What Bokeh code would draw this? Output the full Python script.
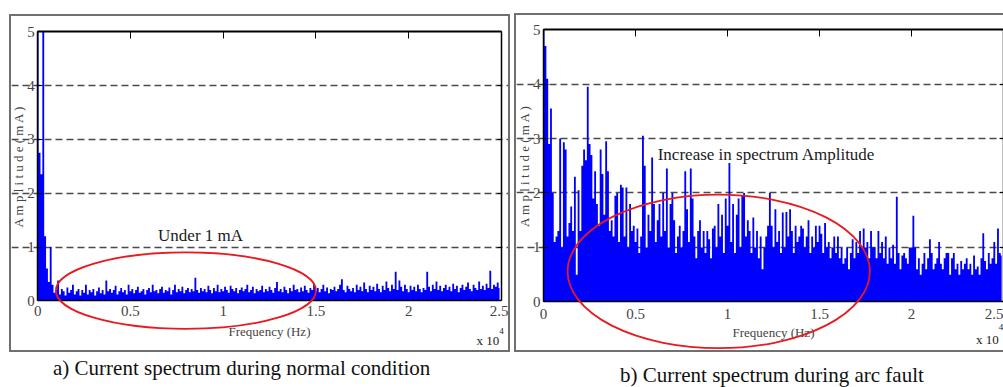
from bokeh.plotting import figure
from bokeh.models import LinearAxis, Range1d, FixedTicker, Label, Div
from bokeh.layouts import row, column
from bokeh.embed import file_html
from bokeh.resources import INLINE

FONT = "Liberation Serif"

# ---------------- data ----------------
FREQ_STEP = 100  # Hz per spectral bin
freqs = [i * FREQ_STEP for i in range(250)]

normal_amp = [
    5.0, 2.75, 2.35, 5.0, 1.2, 0.6, 0.35, 1.0, 0.3, 0.15,
    0.2, 0.38, 0.12, 0.22, 0.18, 0.1, 0.25, 0.15, 0.2, 0.3,
    0.12, 0.18, 0.22, 0.1, 0.2, 0.15, 0.3, 0.12, 0.2, 0.16,
    0.22, 0.1, 0.18, 0.25, 0.14, 0.2, 0.12, 0.38, 0.18, 0.22,
    0.15, 0.2, 0.28, 0.12, 0.18, 0.24, 0.16, 0.2, 0.12, 0.3,
    0.18, 0.22, 0.14, 0.2, 0.26, 0.15, 0.18, 0.22, 0.12, 0.2,
    0.24, 0.16, 0.3, 0.18, 0.2, 0.14, 0.22, 0.26, 0.15, 0.2,
    0.18, 0.25, 0.12, 0.2, 0.3, 0.16, 0.22, 0.18, 0.26, 0.14,
    0.2, 0.24, 0.16, 0.22, 0.18, 0.43, 0.2, 0.15, 0.24, 0.18,
    0.22, 0.16, 0.28, 0.2, 0.14, 0.24, 0.18, 0.3, 0.16, 0.22,
    0.18, 0.26, 0.2, 0.15, 0.28, 0.22, 0.18, 0.24, 0.14, 0.2,
    0.25, 0.18, 0.22, 0.3, 0.16, 0.2, 0.26, 0.14, 0.22, 0.18,
    0.2, 0.28, 0.16, 0.22, 0.18, 0.26, 0.2, 0.15, 0.24, 0.35,
    0.18, 0.22, 0.16, 0.26, 0.2, 0.14, 0.24, 0.18, 0.3, 0.2,
    0.22, 0.16, 0.25, 0.18, 0.28, 0.2, 0.15, 0.24, 0.2, 0.32,
    0.18, 0.24, 0.16, 0.22, 0.3, 0.18, 0.25, 0.14, 0.22, 0.2,
    0.26, 0.18, 0.22, 0.3, 0.4, 0.2, 0.16, 0.28, 0.22, 0.18,
    0.24, 0.16, 0.3, 0.2, 0.26, 0.18, 0.34, 0.22, 0.16, 0.28,
    0.2, 0.26, 0.18, 0.32, 0.22, 0.16, 0.28, 0.2, 0.36, 0.24,
    0.18, 0.3, 0.22, 0.54, 0.2, 0.38, 0.26, 0.18, 0.3, 0.22,
    0.16, 0.28, 0.2, 0.26, 0.18, 0.3, 0.22, 0.16, 0.24, 0.2,
    0.54, 0.26, 0.18, 0.3, 0.22, 0.36, 0.2, 0.28, 0.18, 0.24,
    0.3, 0.2, 0.26, 0.18, 0.32, 0.22, 0.28, 0.16, 0.24, 0.3,
    0.2, 0.26, 0.34, 0.22, 0.18, 0.3, 0.24, 0.2, 0.36, 0.22,
    0.28, 0.2, 0.32, 0.24, 0.56, 0.22, 0.3, 0.26, 0.34, 0.24,
]

fault_amp = [
    5.0, 4.7, 4.1, 2.9, 3.55, 2.0, 1.1, 1.2, 1.3, 3.0,
    1.0, 2.93, 2.8, 1.2, 1.45, 1.75, 1.3, 2.3, 0.5, 2.05,
    1.3, 2.5, 2.8, 2.6, 3.95, 2.9, 2.7, 1.9, 2.4, 1.8,
    1.4, 2.8, 2.35, 1.6, 2.95, 2.4, 1.3, 1.5, 1.2, 1.95,
    2.0, 1.1, 2.15, 2.1, 1.2, 2.1, 1.0, 1.8, 1.3, 1.4,
    1.1, 1.35, 0.9, 1.2, 3.05, 2.5, 1.0, 1.6, 1.3, 2.65,
    1.8, 1.1, 1.5, 1.8, 1.2, 2.0, 1.3, 2.45, 1.0, 1.8,
    2.0, 1.5, 0.9, 1.2, 1.4, 1.0, 1.3, 2.4, 1.7, 1.1,
    2.45, 1.9, 1.2, 0.8, 1.3, 1.5, 1.0, 1.3, 0.9, 1.3,
    1.15, 0.8, 1.35, 1.4, 1.0, 1.8, 1.2, 1.6, 0.9, 1.9,
    1.4, 2.55, 1.1, 1.8, 0.9, 1.6, 1.9, 1.0, 1.95, 2.0,
    1.2, 1.5, 1.3, 0.9, 1.55, 1.0, 1.3, 0.8, 1.2, 0.6,
    1.0, 1.2, 1.4, 2.0, 1.4, 1.0, 1.7, 1.1, 1.3, 0.9,
    1.64, 1.0, 1.65, 1.2, 1.7, 1.3, 0.9, 1.4, 1.1, 1.2,
    1.4, 1.35, 1.0, 1.2, 1.5, 0.9, 1.2, 1.0, 1.4, 1.1,
    1.4, 1.25, 0.9, 1.45, 1.0, 1.1, 0.8, 1.0, 1.2, 0.9,
    1.2, 0.8, 1.0, 0.7, 0.8, 1.0, 0.6, 0.9, 1.15, 0.8,
    1.1, 0.9, 1.3, 1.0, 1.35, 1.0, 1.1, 0.8, 1.3, 1.0,
    1.0, 0.8, 1.3, 0.9, 1.1, 0.8, 1.2, 0.7, 1.0, 0.8,
    1.05, 0.7, 1.93, 0.9, 0.6, 0.85, 0.9, 0.8, 0.7, 1.0,
    1.0, 1.58, 1.0, 0.6, 0.8, 0.5, 0.7, 0.9, 0.6, 0.8,
    1.15, 0.9, 0.6, 0.7, 0.8, 1.1, 0.7, 0.6, 0.8, 0.9,
    0.9, 0.5, 0.8, 0.9, 0.6, 0.7, 0.5, 0.75, 0.6, 0.7,
    0.8, 0.6, 0.7, 0.5, 0.85, 0.6, 0.65, 0.5, 0.8, 1.26,
    0.75, 0.6, 0.9, 0.7, 0.8, 1.1, 0.7, 1.35, 0.9, 0.85,
]

X_MAX = 25000
Y_MAX = 5
x_ticks = [0, 5000, 10000, 15000, 20000, 25000]
x_tick_labels = ["0", "0.5", "1", "1.5", "2", "2.5"]
y_ticks = [0, 1, 2, 3, 4, 5]
grid_levels = [1, 2, 3, 4]

# red highlight ellipses (centre x, centre y, half-width, half-height) in data units
ellipse_normal = (7990, 0.19, 7010, 0.71)
ellipse_fault = (9520, 0.56, 8215, 1.41)

note_normal = ("Under 1 mA", 8780, 1.22)
note_fault = ("Increase in spectrum Amplitude", 12118, 2.70)

caption_a = "a) Current spectrum during normal condition"
caption_b = "b) Current spectrum during arc fault"

PANEL_BORDER = "2px solid #707070"
BW = 2  # panel border width (px)


def make_panel(amps, ell, note, plot_w, plot_h, pad, borders, exp_pos, x_standoff, xl_standoff):
    ml, mr, mt, mb = pad  # pixels between panel inner edge and the data area
    bl, br, bt, bb = borders
    sx = X_MAX / plot_w
    sy = Y_MAX / plot_h
    styles = {}
    for side, on in zip(("left", "right", "top", "bottom"), borders):
        if on:
            styles["border-" + side] = PANEL_BORDER
    p = figure(width=ml + plot_w + mr + (bl + br) * BW,
               height=mt + plot_h + mb + (bt + bb) * BW,
               x_range=Range1d(-ml * sx, X_MAX + mr * sx),
               y_range=Range1d(-mb * sy, Y_MAX + mt * sy),
               output_backend="svg", toolbar_location=None,
               min_border=0, min_border_left=0, min_border_right=0,
               min_border_top=0, min_border_bottom=0,
               background_fill_color="white", border_fill_color="white")
    p.styles = styles
    p.outline_line_color = None
    p.xgrid.visible = False
    p.ygrid.ticker = FixedTicker(ticks=grid_levels)
    p.ygrid.bounds = (0, X_MAX)
    p.ygrid.grid_line_color = "#4a4a4a"
    p.ygrid.grid_line_dash = "7 4"
    p.ygrid.grid_line_width = 1.3

    p.varea_step(x=freqs, y1=0, y2=amps, step_mode="center", fill_color="#0000ff")

    xa = p.xaxis[0]
    xa.fixed_location = 0
    xa.bounds = (0, X_MAX)
    xa.ticker = FixedTicker(ticks=x_ticks)
    xa.major_label_overrides = {t: l for t, l in zip(x_ticks, x_tick_labels)}
    xa.axis_label = "Frequency (Hz)"
    xa.major_tick_in = 0
    xa.major_tick_out = 0
    xa.minor_tick_line_color = None
    xa.major_label_standoff = x_standoff
    xa.axis_label_standoff = xl_standoff
    xa.major_label_text_font = FONT
    xa.major_label_text_font_size = "15px"
    xa.axis_label_text_font = FONT
    xa.axis_label_text_font_size = "13px"
    xa.axis_label_text_font_style = "normal"
    xa.axis_line_width = 1.5

    ya = p.yaxis[0]
    ya.fixed_location = 0
    ya.bounds = (0, Y_MAX)
    ya.ticker = FixedTicker(ticks=y_ticks)
    ya.axis_label = "A m p l i t u d e ( m A )"
    ya.major_tick_in = 5
    ya.major_tick_out = 0
    ya.minor_tick_line_color = None
    ya.major_label_standoff = 3
    ya.axis_label_standoff = -2
    ya.major_label_text_font = FONT
    ya.major_label_text_font_size = "15px"
    ya.axis_label_text_font = FONT
    ya.axis_label_text_font_size = "13px"
    ya.axis_label_text_font_style = "normal"
    ya.axis_line_width = 1.5

    top = LinearAxis(ticker=FixedTicker(ticks=x_ticks), fixed_location=Y_MAX, bounds=(0, X_MAX),
                     major_label_overrides={t: "" for t in x_ticks},
                     major_tick_in=7, major_tick_out=0, major_label_standoff=0,
                     minor_tick_line_color=None, axis_line_width=1.8)
    p.add_layout(top, "above")
    right = LinearAxis(ticker=FixedTicker(ticks=y_ticks), fixed_location=X_MAX, bounds=(0, Y_MAX),
                       major_label_overrides={t: "" for t in y_ticks},
                       major_tick_in=4, major_tick_out=0, major_label_standoff=0,
                       minor_tick_line_color=None, axis_line_width=1.5)
    p.add_layout(right, "right")

    cx, cy, rx, ry = ell
    er = p.ellipse(x=[cx], y=[cy], width=[2 * rx], height=[2 * ry],
                   fill_color=None, line_color="#e8191f", line_width=1.8)
    er.level = "overlay"

    txt, nx, ny = note
    p.add_layout(Label(x=nx, y=ny, text=txt, text_font=FONT, text_font_size="17px",
                       text_align="center", text_baseline="middle", text_color="#1a1a1a"))

    ex, ey, esy = exp_pos
    p.add_layout(Label(x=ex, y=ey, text="x 10", text_font=FONT, text_font_size="13px",
                       text_align="right", text_baseline="middle", text_color="#1a1a1a"))
    p.add_layout(Label(x=ex, y=esy, text="4", text_font=FONT, text_font_size="9px",
                       text_align="left", text_baseline="middle", text_color="#1a1a1a"))
    return p


p1 = make_panel(normal_amp, ellipse_normal, note_normal, 460, 266, (26, 11, 15, 53),
                (1, 1, 1, 1), (24890, -0.73, -0.56), 5, 5)
p1.margin = (14, 0, 0, 9)

p2 = make_panel(fault_amp, ellipse_fault, note_fault, 458, 269, (27, 2, 14, 52),
                (1, 0, 1, 1), (24740, -0.70, -0.47), 7, 3)
p2.margin = (13, 0, 0, 4)

cap_style = {"font-family": FONT, "font-size": "21px", "white-space": "nowrap",
             "color": "#111111", "overflow": "visible"}
cap_a_div = Div(text=caption_a, width=420, height=21, margin=(6, 0, 0, 53),
                styles=dict(cap_style, **{"line-height": "21px"}))
cap_b_div = Div(text=caption_b, width=340, height=14, margin=(16, 0, 0, 110),
                styles=dict(cap_style, **{"line-height": "14px"}))

layout = row(column(p1, cap_a_div), column(p2, cap_b_div))

with open("out.html", "w") as f:
    f.write(file_html(layout, INLINE))
